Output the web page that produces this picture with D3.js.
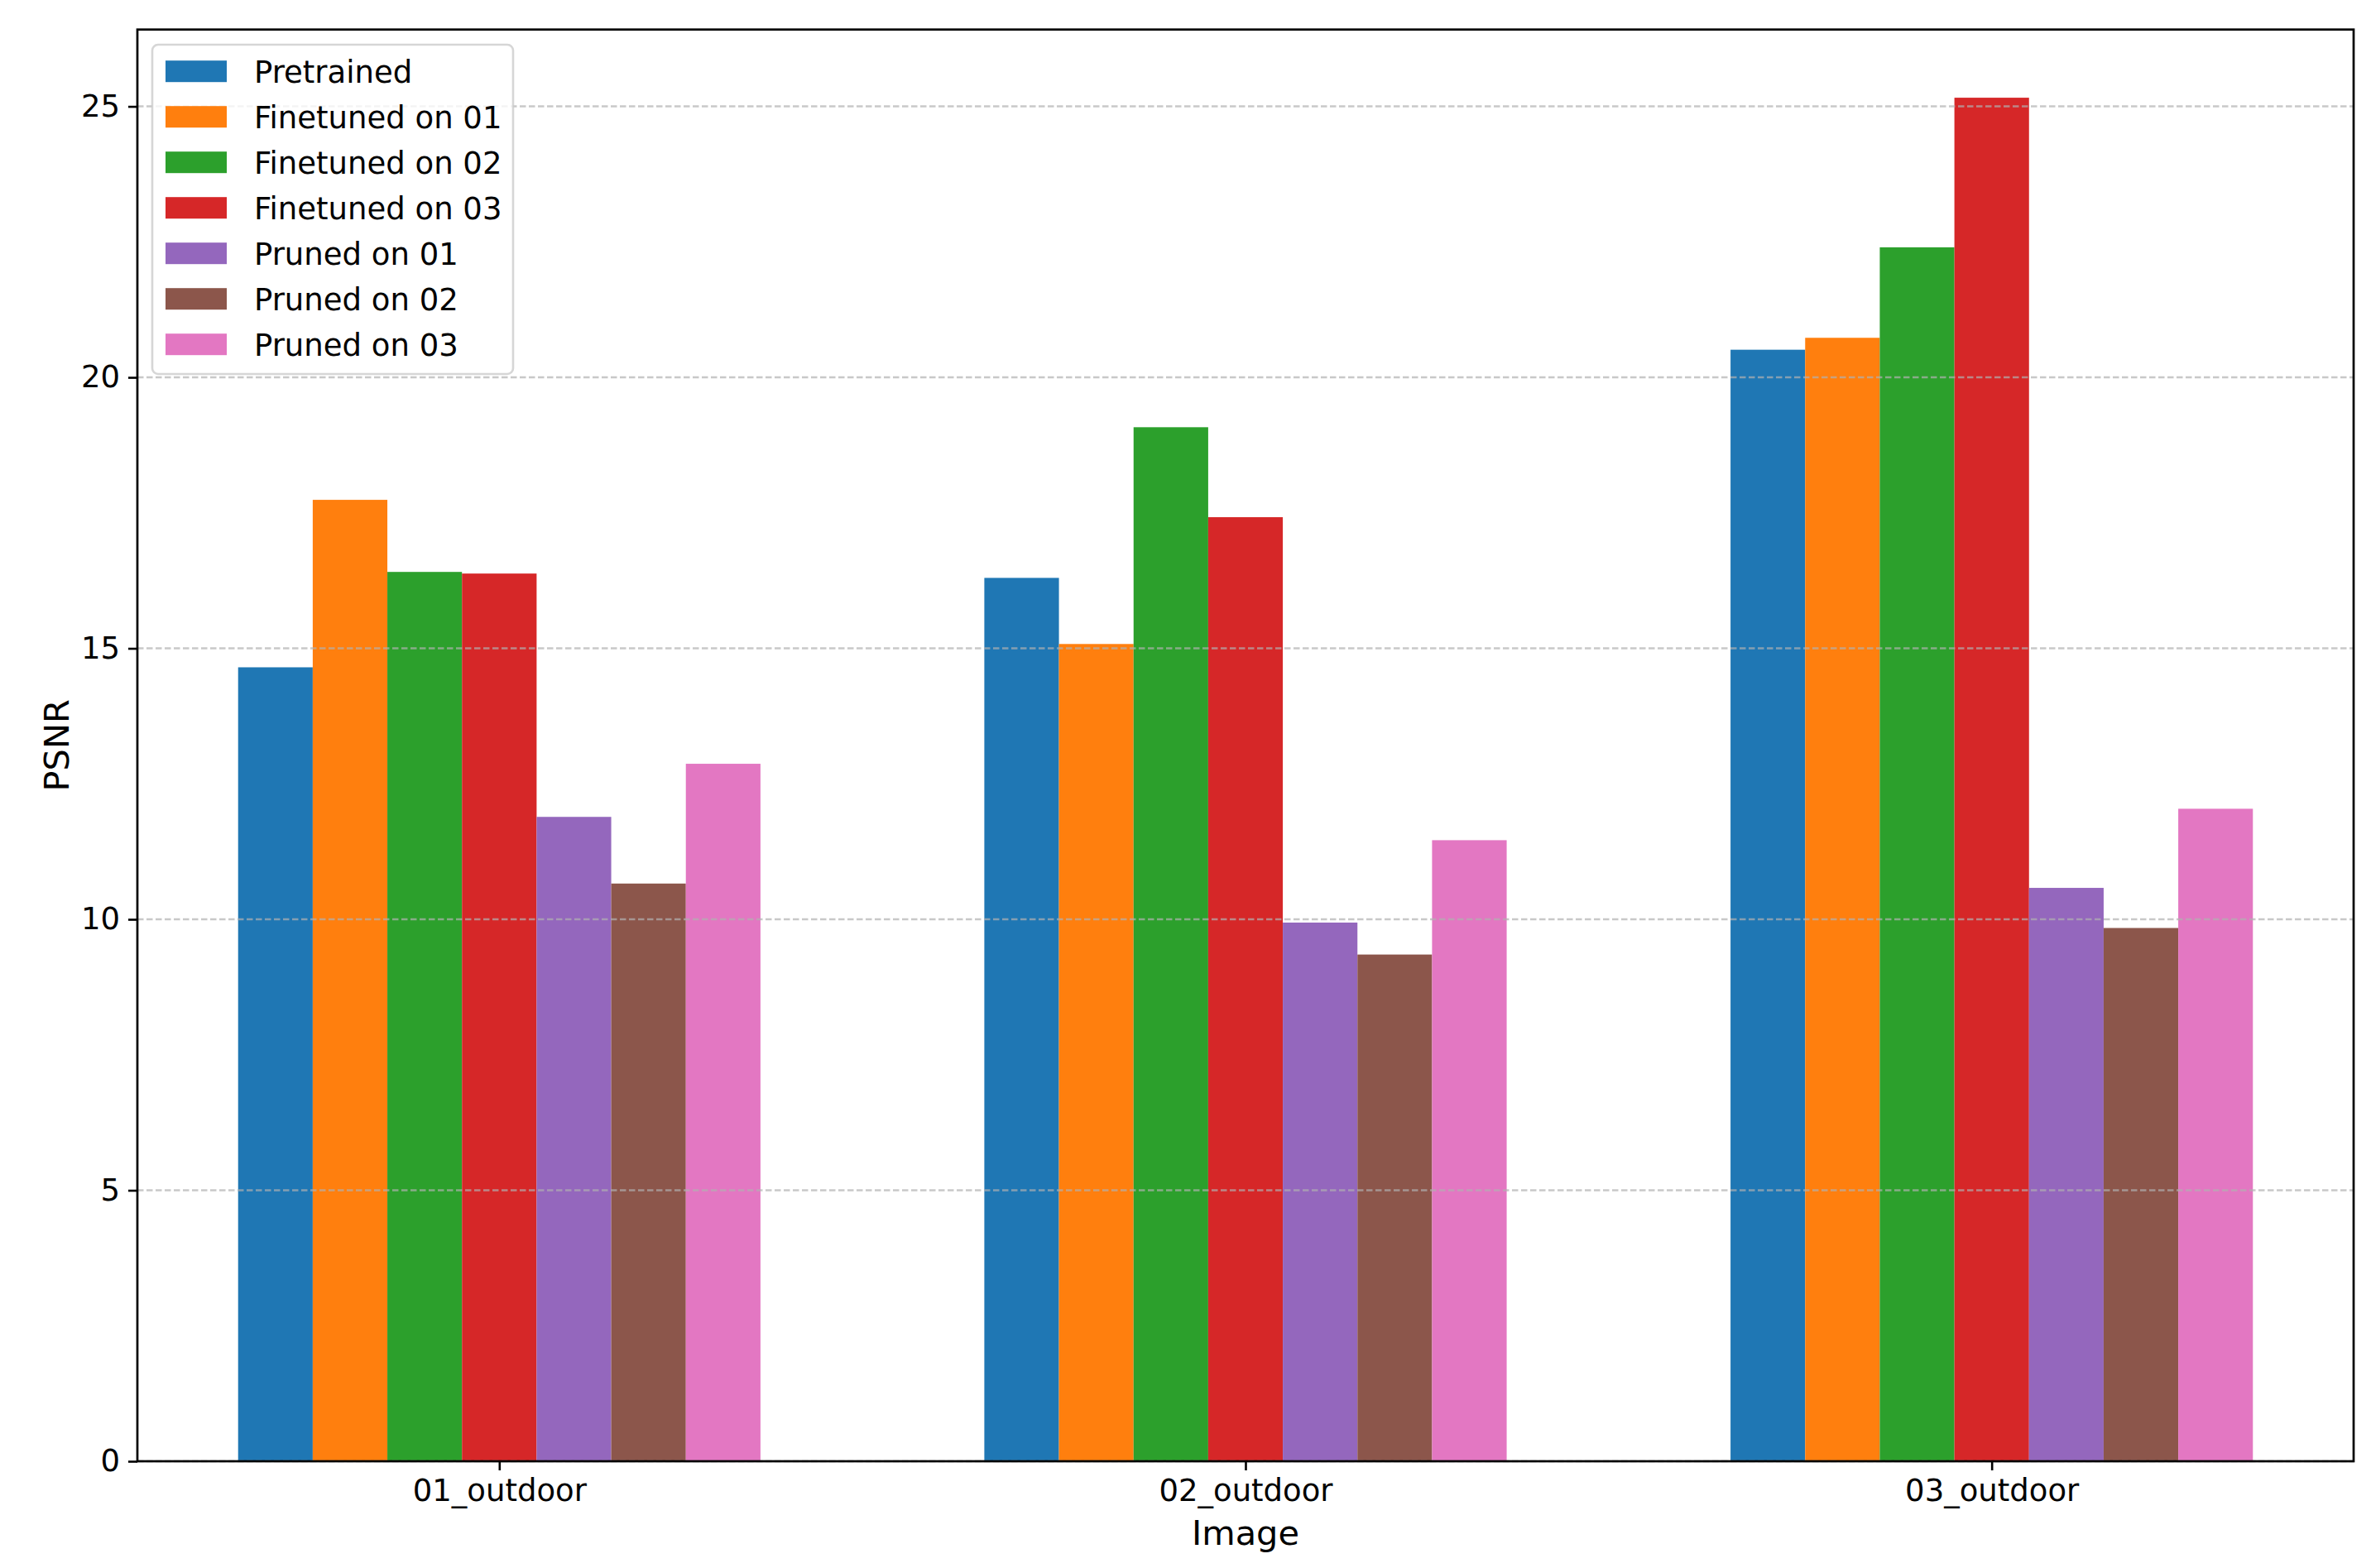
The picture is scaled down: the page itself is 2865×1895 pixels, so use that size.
<!DOCTYPE html>
<html>
<head>
<meta charset="utf-8">
<script src="https://cdn.jsdelivr.net/npm/d3@7"></script>
<style>
  html, body { margin: 0; padding: 0; background: #ffffff; }
  svg { display: block; }
  text { font-family: "DejaVu Sans", sans-serif; fill: #000; }
</style>
</head>
<body>
<svg id="chart" width="2865" height="1895"></svg>
<script>
// ---- data ----
const categories = ["01_outdoor", "02_outdoor", "03_outdoor"];
const seriesNames = ["Pretrained", "Finetuned on 01", "Finetuned on 02", "Finetuned on 03",
                     "Pruned on 01", "Pruned on 02", "Pruned on 03"];
const pretrained   = [14.65, 16.30, 20.51];
const finetuned01  = [17.74, 15.08, 20.73];
const finetuned02  = [16.41, 19.08, 22.40];
const finetuned03  = [16.38, 17.42, 25.16];
const pruned01     = [11.89, 9.94, 10.58];
const pruned02     = [10.66, 9.35, 9.84];
const pruned03     = [12.87, 11.46, 12.04];
const yTicks = [0, 5, 10, 15, 20, 25];
const colors = ["#1f77b4", "#ff7f0e", "#2ca02c", "#d62728", "#9467bd", "#8c564b", "#e377c2"];

const seriesValues = [pretrained, finetuned01, finetuned02, finetuned03, pruned01, pruned02, pruned03];

(function () {
// ---- layout ----
const pL = 166, pR = 2844, pT = 35.7, pB = 1766;
const barW = 0.1;
const nS = seriesValues.length;
const maxVal = d3.max(seriesValues.flat());
const xmin = -(nS / 2) * barW, xmax = (categories.length - 1) + (nS / 2) * barW;
const xpad = (xmax - xmin) * 0.05;

const x = d3.scaleLinear().domain([xmin - xpad, xmax + xpad]).range([pL, pR]);
const y = d3.scaleLinear().domain([0, maxVal * 1.05]).range([pB, pT]);

const svg = d3.select("#chart");
const FS = 37;
const LFS = 41.5;

// bars
const g = svg.append("g");
seriesValues.forEach((vals, s) => {
  g.selectAll(null).data(vals).enter().append("rect")
    .attr("x", (d, i) => x(i + (s - (nS - 1) / 2) * barW - barW / 2))
    .attr("width", x(barW) - x(0))
    .attr("y", d => y(d))
    .attr("height", d => y(0) - y(d))
    .attr("fill", colors[s]);
});

// grid (drawn above bars, like the reference)
svg.append("g").selectAll("line").data(yTicks).enter().append("line")
  .attr("x1", pL).attr("x2", pR)
  .attr("y1", d => y(d)).attr("y2", d => y(d))
  .attr("stroke", "#b0b0b0").attr("stroke-opacity", 0.7)
  .attr("stroke-width", 2.6).attr("stroke-dasharray", "7.5,3.5");

// axes
const yAxis = d3.axisLeft(y).tickValues(yTicks).tickFormat(d3.format("d")).tickSize(11).tickPadding(10);
const yg = svg.append("g").attr("transform", `translate(${pL},0)`).call(yAxis);
yg.select(".domain").remove();
yg.selectAll(".tick line").attr("stroke", "#000").attr("stroke-width", 2.6);
yg.selectAll(".tick text").attr("font-size", FS).attr("font-family", "DejaVu Sans");

const xAxis = d3.axisBottom(x).tickValues(categories.map((c, i) => i))
  .tickFormat(i => categories[i]).tickSize(11).tickPadding(11);
const xg = svg.append("g").attr("transform", `translate(0,${pB})`).call(xAxis);
xg.select(".domain").remove();
xg.selectAll(".tick line").attr("stroke", "#000").attr("stroke-width", 2.6);
xg.selectAll(".tick text").attr("font-size", FS).attr("font-family", "DejaVu Sans");

// frame
svg.append("rect").attr("x", pL).attr("y", pT)
  .attr("width", pR - pL).attr("height", pB - pT)
  .attr("fill", "none").attr("stroke", "#000").attr("stroke-width", 2.7);

// axis labels
svg.append("text").attr("x", (pL + pR) / 2).attr("y", 1867)
  .attr("text-anchor", "middle").attr("font-size", LFS).text("Image");
svg.append("text")
  .attr("transform", `translate(83,${(pT + pB) / 2}) rotate(-90)`)
  .attr("text-anchor", "middle").attr("font-size", LFS).text("PSNR");

// legend
const lg = svg.append("g");
lg.append("rect").attr("x", 184).attr("y", 54).attr("width", 436).attr("height", 398)
  .attr("rx", 7).attr("ry", 7)
  .attr("fill", "#ffffff").attr("fill-opacity", 0.8)
  .attr("stroke", "#cccccc").attr("stroke-opacity", 0.8).attr("stroke-width", 2.6);
seriesNames.forEach((name, s) => {
  const cy = 86.2 + s * 55;
  lg.append("rect").attr("x", 200).attr("y", cy - 13).attr("width", 74).attr("height", 26)
    .attr("fill", colors[s]);
  lg.append("text").attr("x", 307).attr("y", cy + 13.5).attr("font-size", FS).text(name);
});
})();
</script>
</body>
</html>
